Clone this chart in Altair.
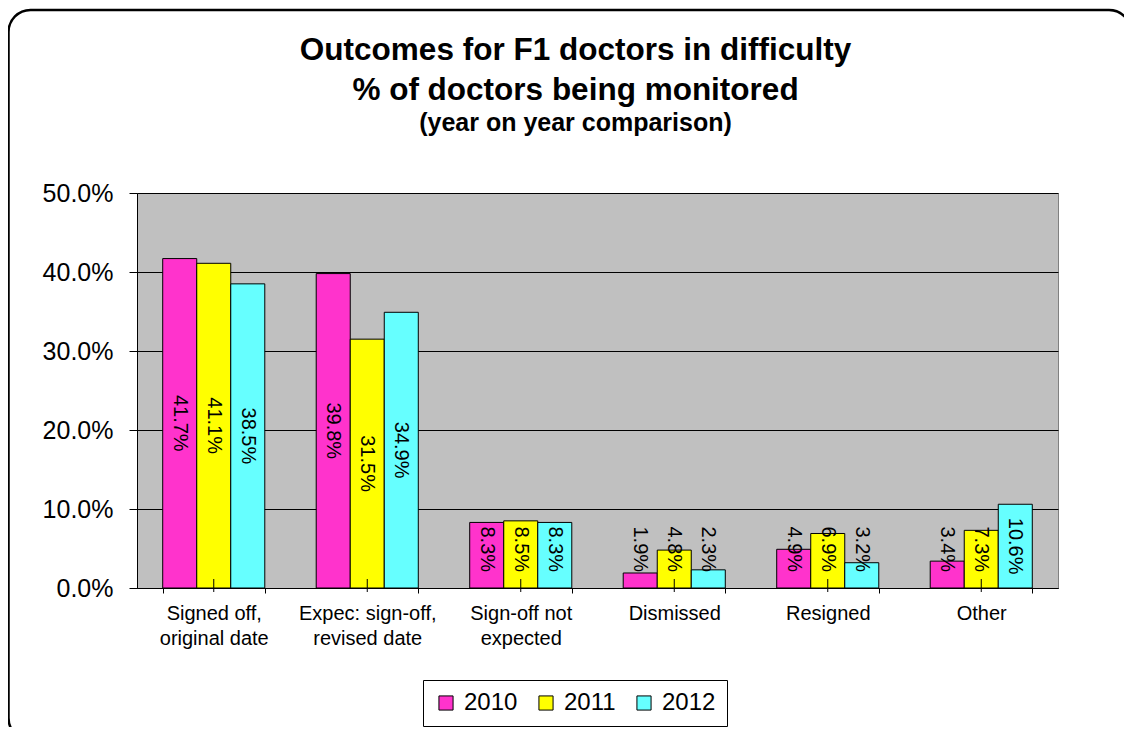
import altair as alt
import pandas as pd

categories = [
    "Signed off,\noriginal date",
    "Expec: sign-off,\nrevised date",
    "Sign-off not\nexpected",
    "Dismissed",
    "Resigned",
    "Other",
]
years = ["2010", "2011", "2012"]
values_2010 = [41.7, 39.8, 8.3, 1.9, 4.9, 3.4]
values_2011 = [41.1, 31.5, 8.5, 4.8, 6.9, 7.3]
values_2012 = [38.5, 34.9, 8.3, 2.3, 3.2, 10.6]
colors = ["#FF33CC", "#FFFF00", "#66FFFF"]
y_ticks = [0, 10, 20, 30, 40, 50]

rows = []
for yr, vals in zip(years, [values_2010, values_2011, values_2012]):
    for c, v in zip(categories, vals):
        rows.append({"category": c, "year": yr, "value": v,
                     "label": f"{v:.1f}%", "labelpos": max(v / 2, 4.9)})
df = pd.DataFrame(rows)

FONT = "Liberation Sans"
W, H = 921, 395

x_enc = alt.X("category:N", sort=categories,
              scale=alt.Scale(paddingInner=0.335, paddingOuter=0.1675),
              axis=alt.Axis(title=None, labelAngle=0, tickBand="extent",
                            labelExpr="split(datum.label, '\\n')",
                            labelFontSize=20, labelLineHeight=25,
                            labelFont=FONT, labelColor="black",
                            labelPadding=10, tickSize=5, tickColor="black",
                            domainColor="black", grid=False))
y_enc = alt.Y("value:Q",
              scale=alt.Scale(domain=[0, 50], nice=False),
              axis=alt.Axis(title=None, values=y_ticks,
                            labelExpr="format(datum.value, '.1f') + '%'",
                            labelFontSize=25, labelFont=FONT, labelColor="black",
                            labelPadding=16, tickSize=8, tickColor="black",
                            domainColor="black", gridColor="black",
                            gridOpacity=1, gridWidth=1))

base = alt.Chart(df)

bars = base.mark_bar(stroke="black", strokeWidth=1).encode(
    x=x_enc,
    xOffset=alt.XOffset("year:N", sort=years),
    y=y_enc,
    color=alt.Color("year:N", sort=years,
                    scale=alt.Scale(domain=years, range=colors),
                    legend=alt.Legend(title=None, orient="none",
                                      legendX=286, legendY=487,
                                      direction="horizontal",
                                      strokeColor="black", padding=11,
                                      columnPadding=16,
                                      symbolType="square", symbolSize=200,
                                      symbolStrokeColor="black",
                                      symbolStrokeWidth=1,
                                      symbolOpacity=1,
                                      labelFontSize=24, labelFont=FONT,
                                      labelColor="black", labelOffset=6)),
)

labels = base.mark_text(angle=90, fontSize=20, font=FONT, color="black",
                        align="center", baseline="middle").encode(
    x=alt.X("category:N", sort=categories),
    xOffset=alt.XOffset("year:N", sort=years),
    y=alt.Y("labelpos:Q"),
    text="label:N",
)

center_ticks = alt.Chart(pd.DataFrame({"category": categories})).mark_rule(
    color="black", strokeWidth=1).encode(
    x=alt.X("category:N", sort=categories),
    y=alt.value(H - 9),
    y2=alt.value(H + 4),
)

border = alt.Chart(pd.DataFrame({"category": [categories[0]]})).mark_rect(
    fill=None, filled=False, stroke="black", strokeWidth=2.5, cornerRadius=22).encode(
    x=alt.value(-128.5), x2=alt.value(994),
    y=alt.value(-183), y2=alt.value(547),
)

chart = alt.layer(bars, labels, center_ticks, border).properties(
    width=W, height=H,
    autosize=alt.AutoSizeParams(type="none"),
    padding={"left": 129, "top": 185, "right": 66, "bottom": 139},
    title=alt.Title(
        text=["Outcomes for F1 doctors in difficulty", "% of doctors being monitored"],
        subtitle="(year on year comparison)",
        anchor="middle", dx=-22, offset=-127,
        font=FONT, fontSize=31.5, fontWeight="bold", color="black", lineHeight=40,
        subtitleFont=FONT, subtitleFontSize=25, subtitleFontWeight="bold",
        subtitleColor="black", subtitlePadding=4,
    ),
).configure(background="white").configure_view(
    fill="#C0C0C0", stroke="#808080", strokeWidth=1)

chart.save("out.html", embed_options={"renderer": "svg", "actions": False})
